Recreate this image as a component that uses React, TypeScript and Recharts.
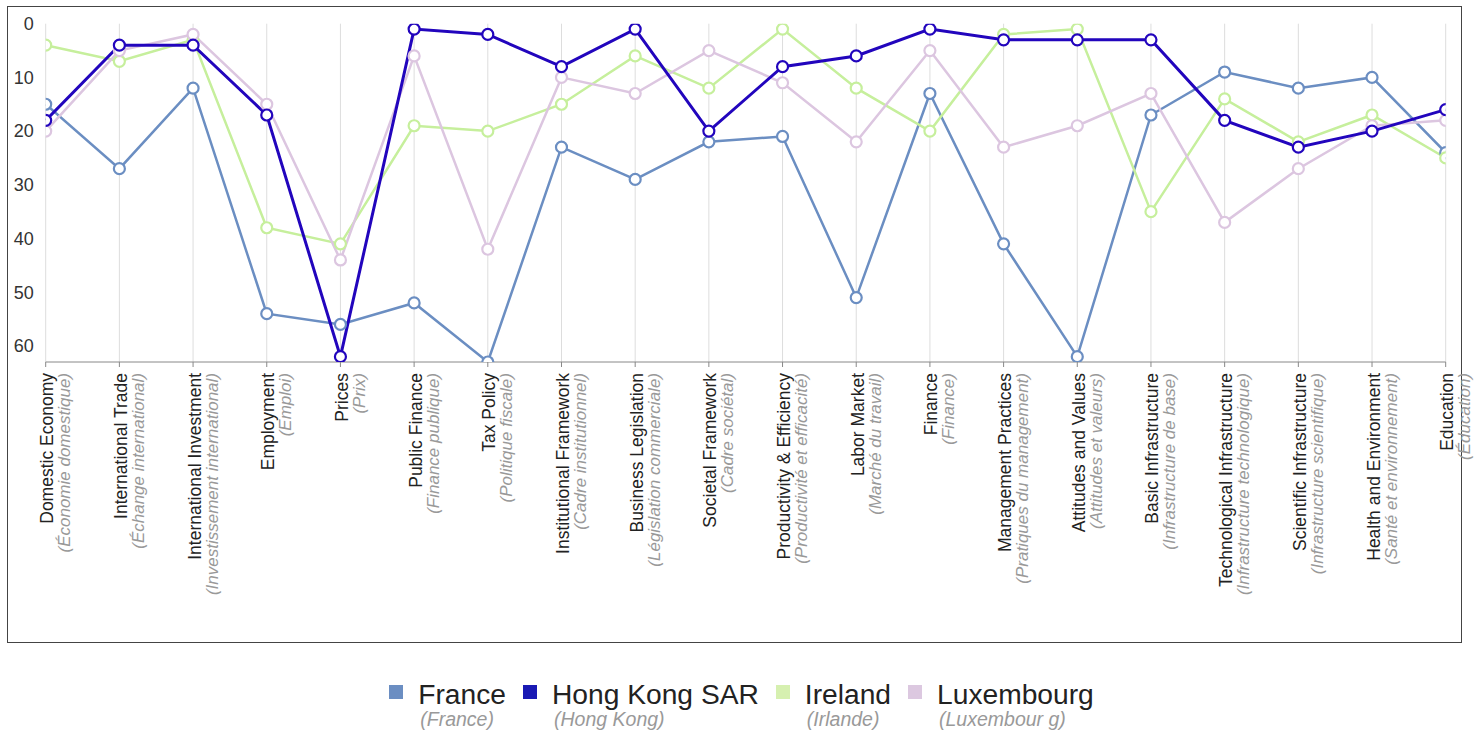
import { LineChart, Line, XAxis, YAxis, CartesianGrid } from 'recharts';

const categories = [
  'Domestic Economy',
  'International Trade',
  'International Investment',
  'Employment',
  'Prices',
  'Public Finance',
  'Tax Policy',
  'Institutional Framework',
  'Business Legislation',
  'Societal Framework',
  'Productivity & Efficiency',
  'Labor Market',
  'Finance',
  'Management Practices',
  'Attitudes and Values',
  'Basic Infrastructure',
  'Technological Infrastructure',
  'Scientific Infrastructure',
  'Health and Environment',
  'Education',
];

const categoriesFr = [
  '(Économie domestique)',
  '(Échange international)',
  '(Investissement international)',
  '(Emploi)',
  '(Prix)',
  '(Finance publique)',
  '(Politique fiscale)',
  '(Cadre institutionnel)',
  '(Législation commerciale)',
  '(Cadre sociétal)',
  '(Productivité et efficacité)',
  '(Marché du travail)',
  '(Finance)',
  '(Pratiques du management)',
  '(Attitudes et valeurs)',
  '(Infrastructure de base)',
  '(Infrastructure technologique)',
  '(Infrastructure scientifique)',
  '(Santé et environnement)',
  '(Éducation)',
];

// rankings (lower is better, axis is reversed)
const france = [15, 27, 12, 54, 56, 52, 63, 23, 29, 22, 21, 51, 13, 41, 62, 17, 9, 12, 10, 24];
const hongKong = [18, 4, 4, 17, 62, 1, 2, 8, 1, 20, 8, 6, 1, 3, 3, 3, 18, 23, 20, 16];
const ireland = [4, 7, 3, 38, 41, 19, 20, 15, 6, 12, 1, 12, 20, 2, 1, 35, 14, 22, 17, 25];
const luxembourg = [20, 5, 2, 15, 44, 6, 42, 10, 13, 5, 11, 22, 5, 23, 19, 13, 37, 27, 19, 18];

const yTicks = [0, 10, 20, 30, 40, 50, 60];

const FONT = '"Liberation Sans", Arial, Helvetica, sans-serif';

const series = [
  { key: 'france', name: 'France', sub: '(France)', values: france, color: '#6b8ec2', legend: '#6b8ec2', width: 2.5 },
  { key: 'hongKong', name: 'Hong Kong SAR', sub: '(Hong Kong)', values: hongKong, color: '#2205bd', legend: '#1a1ab4', width: 3 },
  { key: 'ireland', name: 'Ireland', sub: '(Irlande)', values: ireland, color: '#c6ef9c', legend: '#d6f0b0', width: 2.5 },
  { key: 'luxembourg', name: 'Luxembourg', sub: '(Luxembour g)', values: luxembourg, color: '#dcc6e0', legend: '#dcc8e0', width: 2.5 },
];

// draw order: Hong Kong on top
const drawOrder = ['france', 'ireland', 'luxembourg', 'hongKong'];

const data = categories.map((c, i) => {
  const row: Record<string, string | number> = { category: c };
  series.forEach((s) => {
    row[s.key] = s.values[i];
  });
  return row;
});

function CategoryTick(props: any) {
  const { x, y, payload } = props;
  const i = categories.indexOf(payload.value);
  return (
    <g transform={`translate(${x},${y})`}>
      <text transform="rotate(-90)" textAnchor="end" fontFamily={FONT}>
        <tspan x={0} y={7.5} fontSize={17.5} fill="#222">
          {payload.value}
        </tspan>
        <tspan x={0} y={24.5} fontSize={17} fill="#999" fontStyle="italic">
          {categoriesFr[i]}
        </tspan>
      </text>
    </g>
  );
}

function ChartLegend() {
  return (
    <div
      style={{
        position: 'absolute',
        left: 0,
        top: 680,
        width: 1483,
        display: 'flex',
        justifyContent: 'center',
        fontFamily: FONT,
      }}
    >
      {series.map((s, i) => (
        <div
          key={s.key}
          style={{ display: 'flex', alignItems: 'flex-start', marginRight: i < series.length - 1 ? 17 : 0 }}
        >
          <div style={{ width: 14, height: 14, marginTop: 5, marginRight: 15, background: s.legend }} />
          <div>
            <div style={{ fontSize: 28.2, lineHeight: '29px', color: '#222' }}>{s.name}</div>
            <div style={{ fontSize: 19.5, lineHeight: '21px', color: '#999', fontStyle: 'italic', marginLeft: 2 }}>
              {s.sub}
            </div>
          </div>
        </div>
      ))}
    </div>
  );
}

export default function App() {
  return (
    <div style={{ position: 'absolute', left: 0, top: 0, width: 1483, height: 736, background: '#fff' }}>
      <div
        style={{
          position: 'absolute',
          left: 7,
          top: 6,
          width: 1455,
          height: 637,
          border: '1px solid #444',
          boxSizing: 'border-box',
        }}
      />
      <div style={{ position: 'absolute', left: 0, top: 0 }}>
        <LineChart
          width={1483}
          height={643}
          data={data}
          margin={{ top: 23.7, right: 37.3, left: 5.7, bottom: 1 }}
        >
          <CartesianGrid horizontal={false} stroke="#ddd" />
          <XAxis
            dataKey="category"
            interval={0}
            height={280}
            tickSize={5}
            tickMargin={6}
            stroke="#888"
            tick={<CategoryTick />}
            allowDataOverflow
          />
          <YAxis
            reversed
            domain={[0, 63]}
            ticks={yTicks}
            width={40}
            axisLine={false}
            tickLine={false}
            tickSize={0}
            tickMargin={12}
            allowDataOverflow
            tick={{ fontSize: 18, fill: '#333', fontFamily: FONT }}
          />
          {drawOrder.map((k) => {
            const s = series.find((x) => x.key === k)!;
            return (
              <Line
                key={s.key}
                type="linear"
                dataKey={s.key}
                name={s.name}
                stroke={s.color}
                strokeWidth={s.width}
                dot={{ r: 5.5, fill: '#fff', stroke: s.color, strokeWidth: 2.2 }}
                isAnimationActive={false}
              />
            );
          })}
        </LineChart>
      </div>
      <ChartLegend />
    </div>
  );
}
